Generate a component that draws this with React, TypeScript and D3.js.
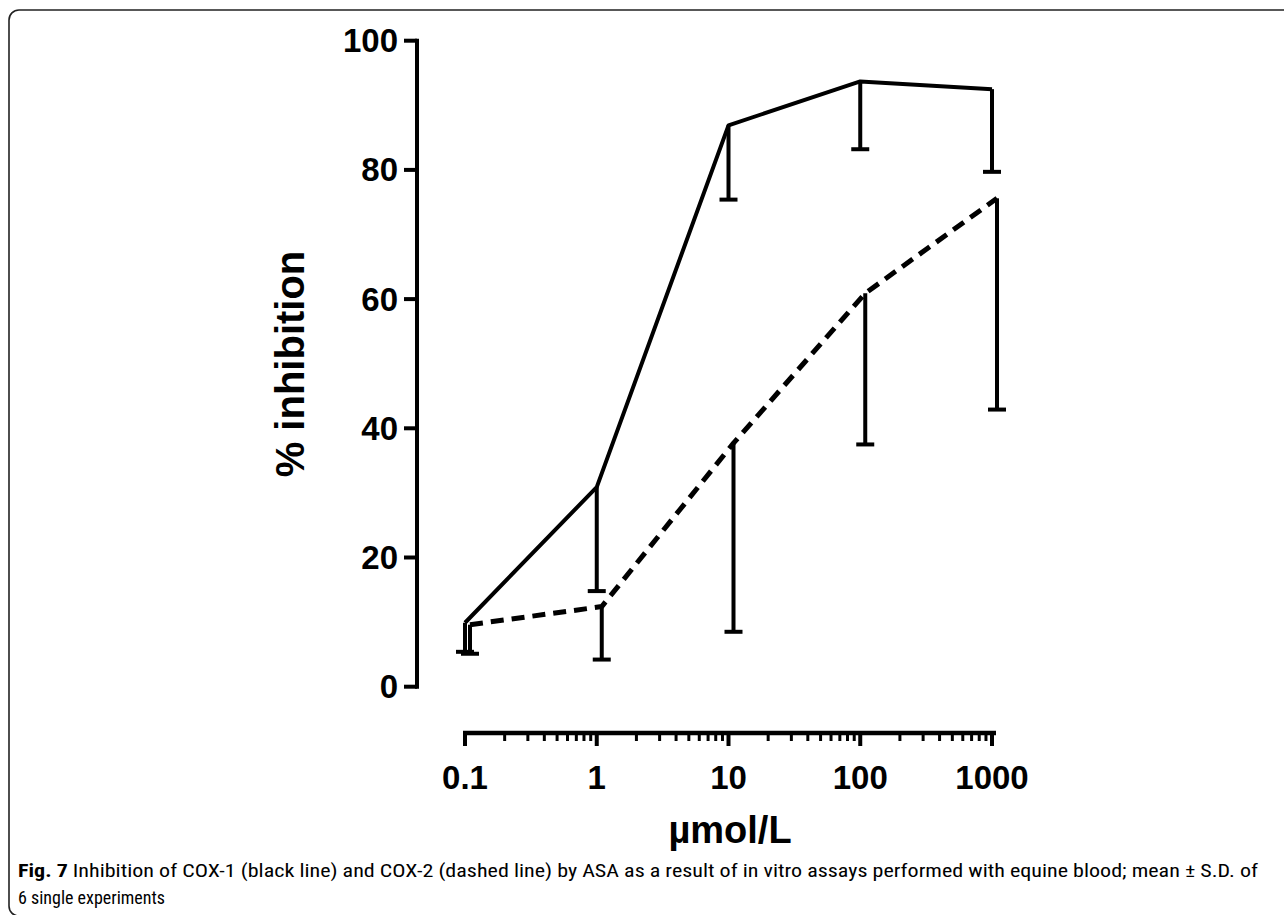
import React from "react";
import * as d3 from "d3";

const concentrations = [0.1, 1, 10, 100, 1000];
const cox1Mean = [9.9, 30.9, 86.9, 93.7, 92.5];
const cox1SD = [4.5, 16.1, 11.5, 10.5, 12.8];
const cox2Mean = [9.6, 12.4, 37.7, 60.9, 75.6];
const cox2SD = [4.5, 8.2, 29.2, 23.4, 32.7];
const yTicks = [0, 20, 40, 60, 80, 100];
const xTickLabels = ["0.1", "1", "10", "100", "1000"];

const W = 1284;
const H = 915;

export default function App() {
  const x = d3.scaleLog().domain([0.1, 1000]).range([465, 992]);
  const y = d3.scaleLinear().domain([0, 100]).range([686.7, 40.7]);
  const axisX = 417;
  const xAxisY = 733;
  const dodge2 = 5;

  const minorTicks: number[] = [];
  for (let e = -1; e < 3; e++) {
    for (let m = 2; m <= 9; m++) minorTicks.push(m * Math.pow(10, e));
  }

  const series = [
    { mean: cox1Mean, sd: cox1SD, dx: 0, dash: undefined as string | undefined },
    { mean: cox2Mean, sd: cox2SD, dx: dodge2, dash: "13 8" },
  ];

  const font = "Liberation Sans, Arial, Helvetica, sans-serif";
  const capFont = "Liberation Sans Narrow, Roboto Condensed, Liberation Sans, Arial, sans-serif";

  return (
    <svg
      width={W}
      height={H}
      style={{ position: "absolute", left: 0, top: 0, background: "#fff" }}
    >
      <rect x={0} y={0} width={W} height={H} fill="#fff" />
      <rect x={9} y={10} width={1400} height={906} rx={10} ry={10} fill="none" stroke="#222" strokeWidth={1.6} />

      {/* Y axis */}
      <line x1={axisX} x2={axisX} y1={y(0)} y2={y(100)} stroke="#000" strokeWidth={4} strokeLinecap="square" />
      {yTicks.map((t) => (
        <g key={t}>
          <line x1={axisX - 13} x2={axisX} y1={y(t)} y2={y(t)} stroke="#000" strokeWidth={4} />
          <text
            x={398}
            y={y(t)}
            textAnchor="end"
            dominantBaseline="central"
            fontFamily={font}
            fontWeight="bold"
            fontSize={33}
          >
            {t}
          </text>
        </g>
      ))}

      {/* X axis */}
      <line x1={x(0.1) - 2} x2={x(1000) + 4} y1={xAxisY} y2={xAxisY} stroke="#000" strokeWidth={4.5} />
      {concentrations.map((c) => (
        <line key={"M" + c} x1={x(c)} x2={x(c)} y1={xAxisY} y2={xAxisY + 13} stroke="#000" strokeWidth={4} />
      ))}
      {minorTicks.map((c) => (
        <line key={"m" + c} x1={x(c)} x2={x(c)} y1={xAxisY} y2={xAxisY + 8} stroke="#000" strokeWidth={3} />
      ))}
      {concentrations.map((c, i) => (
        <text
          key={"l" + c}
          x={x(c)}
          y={777}
          textAnchor="middle"
          dominantBaseline="central"
          fontFamily={font}
          fontWeight="bold"
          fontSize={33}
        >
          {xTickLabels[i]}
        </text>
      ))}

      {/* axis titles */}
      <text
        x={730}
        y={830}
        textAnchor="middle"
        dominantBaseline="central"
        fontFamily={font}
        fontWeight="bold"
        fontSize={38}
      >
        µmol/L
      </text>
      <text
        transform="translate(290,364) rotate(-90)"
        textAnchor="middle"
        dominantBaseline="central"
        fontFamily={font}
        fontWeight="bold"
        fontSize={40}
      >
        % inhibition
      </text>

      {/* series */}
      {series.map((s, si) => {
        const pts: [number, number][] = concentrations.map((c, i) => [x(c) + s.dx, y(s.mean[i])]);
        const path = d3.line()(pts) || "";
        return (
          <g key={si}>
            {concentrations.map((c, i) => {
              const cx = x(c) + s.dx;
              const lo = y(s.mean[i] - s.sd[i]);
              return (
                <g key={i}>
                  <line x1={cx} x2={cx} y1={y(s.mean[i])} y2={lo} stroke="#000" strokeWidth={4} />
                  <line x1={cx - 9} x2={cx + 9} y1={lo} y2={lo} stroke="#000" strokeWidth={4} />
                </g>
              );
            })}
            <path d={path} fill="none" stroke="#000" strokeWidth={s.dash ? 5 : 4} strokeDasharray={s.dash} strokeLinejoin="round" />
          </g>
        );
      })}

      {/* caption */}
      <text x={18} y={877} fontFamily={capFont} fontSize={19} textLength={1240} lengthAdjust="spacingAndGlyphs">
        <tspan fontWeight="bold">Fig. 7</tspan> Inhibition of COX-1 (black line) and COX-2 (dashed line) by ASA as a result of in vitro assays performed with equine blood; mean ± S.D. of
      </text>
      <text x={18} y={904} fontFamily={capFont} fontSize={19} textLength={147} lengthAdjust="spacingAndGlyphs">
        6 single experiments
      </text>
    </svg>
  );
}
